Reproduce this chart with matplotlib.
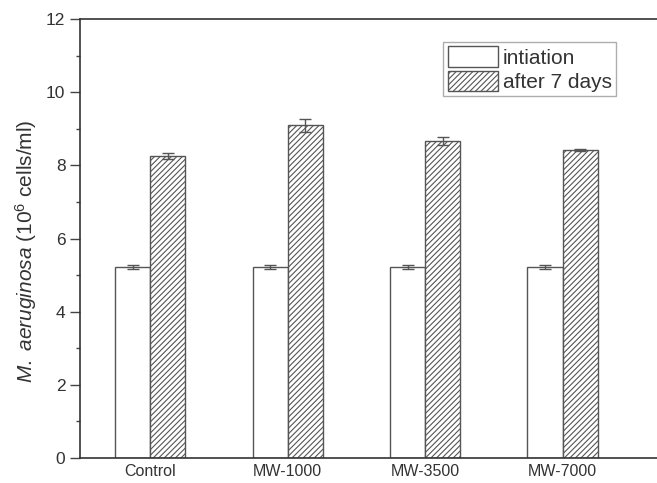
import matplotlib
matplotlib.use("Agg")
import matplotlib.pyplot as plt
import numpy as np
from matplotlib.ticker import MultipleLocator

plt.rcParams['font.family'] = ['Liberation Sans', 'DejaVu Sans']
plt.rcParams['mathtext.fontset'] = 'custom'
plt.rcParams['mathtext.rm'] = 'Liberation Sans'
plt.rcParams['mathtext.it'] = 'Liberation Sans:italic'
plt.rcParams['hatch.color'] = '#707070'
plt.rcParams['hatch.linewidth'] = 0.8

# data
groups = ["Control", "MW-1000", "MW-3500", "MW-7000"]
initiation = [5.22, 5.22, 5.22, 5.22]
initiation_err = [0.05, 0.05, 0.05, 0.05]
after7 = [8.25, 9.10, 8.67, 8.42]
after7_err = [0.09, 0.18, 0.11, 0.04]

W, H = 657, 483
fig = plt.figure(figsize=(W / 100, H / 100), dpi=100)
# axes runs past the right edge of the picture, like the cropped original
ax = fig.add_axes([80 / W, (H - 458) / H, 620 / W, 439 / H])

x = np.arange(len(groups))
bw = 0.255
edge = '#555555'
ax.bar(x - bw / 2, initiation, bw, color='white', edgecolor=edge, linewidth=1.0,
       label='intiation')
ax.bar(x + bw / 2, after7, bw, color='white', edgecolor=edge, linewidth=1.0,
       hatch='//////', label='after 7 days')
ax.errorbar(x - bw / 2, initiation, yerr=initiation_err, fmt='none', ecolor=edge,
            elinewidth=1.0, capsize=4, capthick=1.0)
ax.errorbar(x + bw / 2, after7, yerr=after7_err, fmt='none', ecolor=edge,
            elinewidth=1.0, capsize=4, capthick=1.0)

ax.set_xlim(-0.51, 4.0)
ax.set_ylim(0, 12)
ax.set_xticks(x)
ax.set_xticklabels(groups, fontsize=11.5, color='#333333')
ax.tick_params(axis='x', length=0, pad=4)
ax.yaxis.set_major_locator(MultipleLocator(2))
ax.yaxis.set_minor_locator(MultipleLocator(1))
ax.tick_params(axis='y', which='major', direction='out', length=7.5, width=1.0,
               labelsize=12.5, colors='#444444', labelcolor='#333333', pad=3)
ax.tick_params(axis='y', which='minor', direction='out', length=3, width=1.0,
               colors='#444444')
for s in ax.spines.values():
    s.set_color('#333333')
    s.set_linewidth(1.2)

ax.set_ylabel(r'$\it{M.\ aeruginosa}$ (10$^6$ cells/ml)', fontsize=15, color='#333333')
ax.yaxis.set_label_coords(-0.066, 0.47)

leg = ax.legend(loc='upper right', bbox_to_anchor=(616 / W, (H - 42) / H),
                bbox_transform=fig.transFigure, fontsize=15, frameon=True,
                fancybox=False, edgecolor='#999999', borderpad=0.2,
                handlelength=2.4, handleheight=1.15, handletextpad=0.25,
                labelspacing=0.15, borderaxespad=0)
for t in leg.get_texts():
    t.set_color('#333333')

fig.savefig('out.png', dpi=100)
